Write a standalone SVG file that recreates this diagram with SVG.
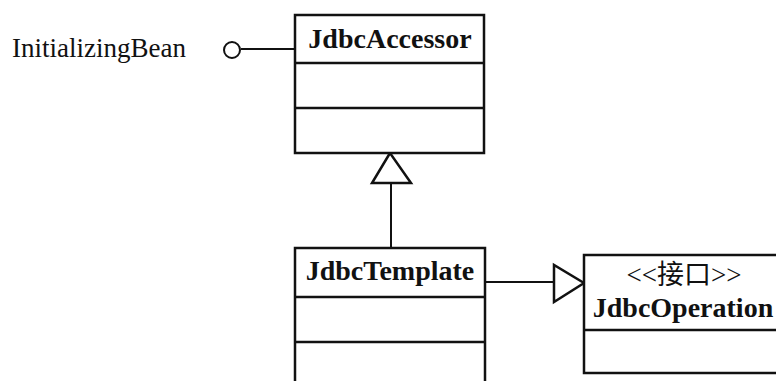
<svg xmlns="http://www.w3.org/2000/svg" width="776" height="381" viewBox="0 0 776 381">
<style>
.box{fill:#fff;stroke:#111;stroke-width:2.5}
.div{stroke:#111;stroke-width:2.5}
.con{stroke:#111;stroke-width:2;fill:none}
.tri{fill:#fff;stroke:#111;stroke-width:2.5;stroke-linejoin:miter}
.b{font-family:"Liberation Serif","Times New Roman",serif;font-weight:bold;font-size:28px;fill:#111;text-anchor:middle}
.r{font-family:"Liberation Serif","Times New Roman","Noto Sans CJK SC",serif;font-size:27px;fill:#111}
</style>
<rect width="776" height="381" fill="#fff"/>
<g id="connectors">
  <line class="con" x1="241" y1="49" x2="295" y2="49"/>
  <circle class="con" cx="232" cy="50" r="8"/>
  <line class="con" x1="391" y1="183" x2="391" y2="248"/>
  <polygon class="tri" points="390,153 372,183 411,183"/>
  <line class="con" x1="485" y1="282" x2="554" y2="282"/>
  <polygon class="tri" points="554,265 554,302 584,283"/>
</g>
<g id="InitializingBean">
  <text class="r" x="12" y="57">InitializingBean</text>
</g>
<g id="JdbcAccessor">
  <rect class="box" x="295" y="15" width="189" height="138"/>
  <line class="div" x1="295" y1="63" x2="484" y2="63"/>
  <line class="div" x1="295" y1="108" x2="484" y2="108"/>
  <text class="b" x="390" y="48">JdbcAccessor</text>
</g>
<g id="JdbcTemplate">
  <rect class="box" x="295" y="248" width="190" height="150"/>
  <line class="div" x1="295" y1="297" x2="485" y2="297"/>
  <line class="div" x1="295" y1="342" x2="485" y2="342"/>
  <text class="b" x="390" y="280">JdbcTemplate</text>
</g>
<g id="JdbcOperation">
  <rect class="box" x="584" y="255" width="210" height="118"/>
  <line class="div" x1="584" y1="330" x2="794" y2="330"/>
  <text class="r" x="684" y="284" text-anchor="middle">&lt;&lt;接口&gt;&gt;</text>
  <text class="b" x="683" y="317">JdbcOperation</text>
</g>
</svg>
